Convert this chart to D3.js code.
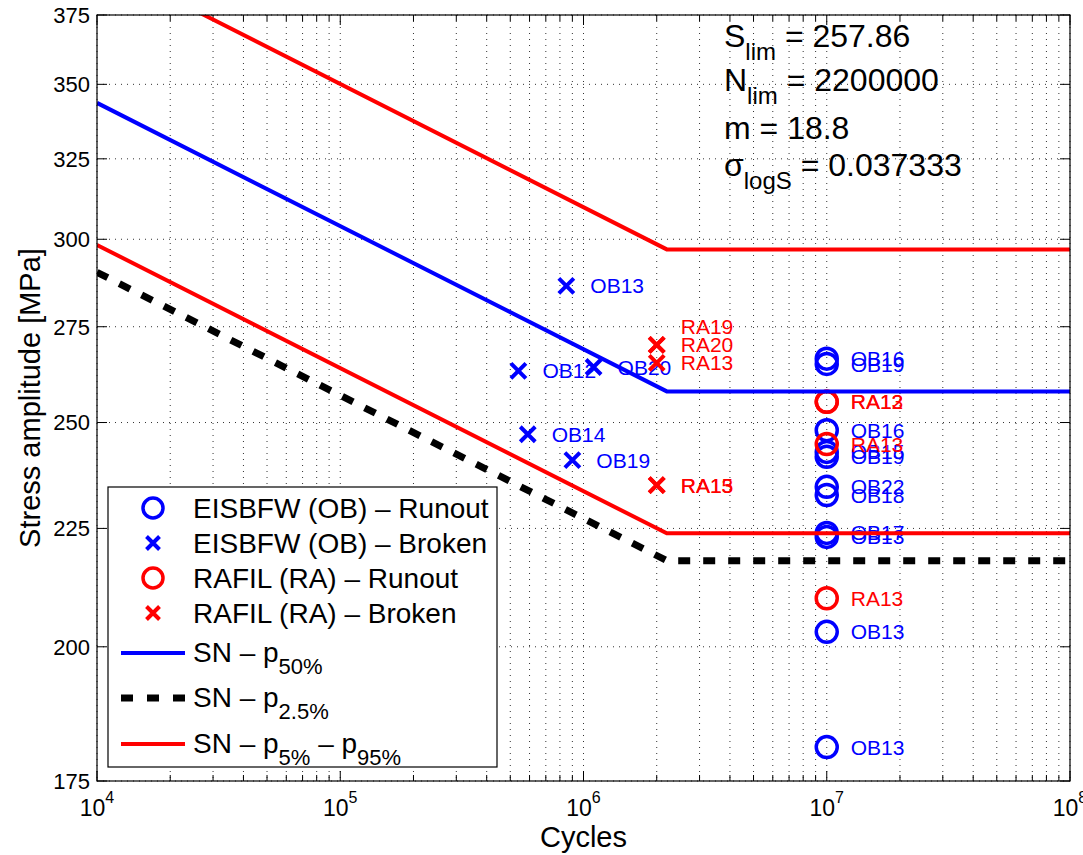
<!DOCTYPE html>
<html>
<head>
<meta charset="utf-8">
<script src="https://cdn.jsdelivr.net/npm/d3@7"></script>
<style>
  body { margin: 0; background: #fff; }
  svg { font-family: "Liberation Sans", Arial, Helvetica, sans-serif; }
</style>
</head>
<body>
<svg id="chart" width="1083" height="855"></svg>
<script>
// tick values
const xMajor = [1e4, 1e5, 1e6, 1e7, 1e8];
const yTicks = [175, 200, 225, 250, 275, 300, 325, 350, 375];

// EISBFW (OB) runouts, all stopped at 1e7 cycles
const obRunoutLabels = ["OB16", "OB19", "OB16", "OB15", "OB19", "OB22", "OB18", "OB17", "OB13", "OB13", "OB13"];
const obRunoutN = [1e7, 1e7, 1e7, 1e7, 1e7, 1e7, 1e7, 1e7, 1e7, 1e7, 1e7];
const obRunoutS = [266.4, 265.0, 248.1, 242.8, 241.6, 234.5, 232.6, 224.0, 223.1, 203.0, 181.0];

// EISBFW (OB) broken
const obBrokenLabels = ["OB13", "OB12", "OB20", "OB14", "OB19"];
const obBrokenN = [8.5e5, 5.4e5, 1.1e6, 5.9e5, 9.0e5];
const obBrokenS = [286.4, 263.2, 264.2, 247.1, 240.8];

// RAFIL (RA) runouts
const raRunoutLabels = ["RA12", "RA13", "RA13", "RA13"];
const raRunoutN = [1e7, 1e7, 1e7, 1e7];
const raRunoutS = [255.2, 255.2, 244.7, 209.9];

// RAFIL (RA) broken
const raBrokenLabels = ["RA19", "RA20", "RA13", "RA15", "RA13"];
const raBrokenN = [2e6, 2e6, 2e6, 2e6, 2e6];
const raBrokenS = [270.1, 270.1, 265.3, 234.9, 234.9];

// SN curves (knee at N_lim)
const snN = [1e4, 2.2e6, 1e8];
const snP50 = [343.6, 257.86, 257.86];
const snP025 = [290.3, 217.9, 217.9];
const snP05 = [298.3, 223.9, 223.9];
const snP95 = [395.8, 297.0, 297.0];

const blue = "#0000ff", red = "#ff0000";
const margin = { left: 97, right: 13, top: 15, bottom: 74 };

const svg = d3.select("#chart");
const width = +svg.attr("width");
const height = +svg.attr("height");
const innerW = width - margin.left - margin.right;
const innerH = height - margin.top - margin.bottom;

const x = d3.scaleLog().domain([1e4, 1e8]).range([0, innerW]);
const y = d3.scaleLog().domain([175, 375]).range([innerH, 0]);

const xMinor = [];
xMajor.slice(0, -1).forEach(d => { for (let k = 2; k <= 9; k++) xMinor.push(d * k); });

const g = svg.append("g").attr("transform", `translate(${margin.left},${margin.top})`);

svg.append("defs").append("clipPath").attr("id", "clip")
  .append("rect").attr("width", innerW).attr("height", innerH);

// grid
const grid = g.append("g").attr("stroke", "#333").attr("stroke-width", 1)
  .attr("stroke-dasharray", "1,5");
grid.selectAll(".gx").data(xMajor.concat(xMinor)).enter().append("line")
  .attr("x1", d => x(d)).attr("x2", d => x(d)).attr("y1", 0).attr("y2", innerH);
grid.selectAll(".gy").data(yTicks).enter().append("line")
  .attr("y1", d => y(d)).attr("y2", d => y(d)).attr("x1", 0).attr("x2", innerW);

// axes ticks (inward, all four sides)
const ax = g.append("g").attr("stroke", "#000").attr("stroke-width", 1);
[[0, 1], [innerH, -1]].forEach(([y0, dir]) => {
  ax.selectAll(null).data(xMajor).enter().append("line")
    .attr("x1", d => x(d)).attr("x2", d => x(d)).attr("y1", y0).attr("y2", y0 + dir * 10);
  ax.selectAll(null).data(xMinor).enter().append("line")
    .attr("x1", d => x(d)).attr("x2", d => x(d)).attr("y1", y0).attr("y2", y0 + dir * 6);
});
ax.selectAll(null).data(yTicks).enter().append("line")
  .attr("x1", 0).attr("x2", 10).attr("y1", d => y(d)).attr("y2", d => y(d));
ax.selectAll(null).data(yTicks).enter().append("line")
  .attr("x1", innerW).attr("x2", innerW - 10).attr("y1", d => y(d)).attr("y2", d => y(d));

// tick labels
g.selectAll(".yl").data(yTicks).enter().append("text")
  .attr("x", -7).attr("y", d => y(d)).attr("dy", "0.36em")
  .attr("text-anchor", "end").attr("font-size", 22).text(d => d);
const xl = g.selectAll(".xl").data(xMajor).enter().append("text")
  .attr("x", d => x(d)).attr("y", innerH + 35)
  .attr("text-anchor", "middle").attr("font-size", 23);
xl.append("tspan").text("10");
xl.append("tspan").attr("dy", -13).attr("font-size", 16).text(d => Math.round(Math.log10(d)));

// axis titles
svg.append("text").attr("x", margin.left + x(1e6)).attr("y", 847)
  .attr("text-anchor", "middle").attr("font-size", 29).text("Cycles");
svg.append("text").attr("transform", `translate(40,${margin.top + innerH / 2}) rotate(-90)`)
  .attr("text-anchor", "middle").attr("font-size", 29).text("Stress amplitude [MPa]");

// points
const plot = g.append("g").attr("clip-path", "url(#clip)");
function crossPath(s) { return `M${-s},${-s}L${s},${s}M${-s},${s}L${s},${-s}`; }

function drawSeries(N, S, labels, color, kind, labelDy) {
  const pts = N.map((n, i) => ({ n, s: S[i], label: labels[i], dy: labelDy ? labelDy[i] : 0 }));
  const sel = plot.append("g");
  if (kind === "o") {
    sel.selectAll("circle").data(pts).enter().append("circle")
      .attr("cx", d => x(d.n)).attr("cy", d => y(d.s)).attr("r", 10.5)
      .attr("fill", "none").attr("stroke", color).attr("stroke-width", 3.5);
  } else {
    sel.selectAll("path").data(pts).enter().append("path")
      .attr("transform", d => `translate(${x(d.n)},${y(d.s)})`)
      .attr("d", crossPath(7.5)).attr("stroke", color).attr("stroke-width", 4).attr("fill", "none");
  }
  sel.selectAll("text").data(pts).enter().append("text")
    .attr("x", d => x(d.n) + 24).attr("y", d => y(d.s) + d.dy).attr("dy", "0.36em")
    .attr("font-size", 21).attr("fill", color).text(d => d.label);
}
drawSeries(obRunoutN, obRunoutS, obRunoutLabels, blue, "o");
drawSeries(obBrokenN, obBrokenS, obBrokenLabels, blue, "x");
drawSeries(raRunoutN, raRunoutS, raRunoutLabels, red, "o");
drawSeries(raBrokenN, raBrokenS, raBrokenLabels, red, "x", [-18, 0, 0, 0, 0]);

// SN curves
const line = d3.line().x(d => x(d[0])).y(d => y(d[1]));
const curves = [
  { s: snP50, color: blue, w: 4, dash: null },
  { s: snP025, color: "#000", w: 7, dash: "12,13" },
  { s: snP05, color: red, w: 4, dash: null },
  { s: snP95, color: red, w: 4, dash: null }
];
curves.forEach(c => {
  plot.append("path").datum(snN.map((n, i) => [n, c.s[i]]))
    .attr("d", line).attr("fill", "none").attr("stroke", c.color)
    .attr("stroke-width", c.w).attr("stroke-dasharray", c.dash);
});

// box
g.append("rect").attr("width", innerW).attr("height", innerH)
  .attr("fill", "none").attr("stroke", "#000").attr("stroke-width", 1.2);

// parameters text
const params = [
  { main: "S", sub: "lim", rest: " = 257.86" },
  { main: "N", sub: "lim", rest: " = 2200000" },
  { main: "m = 18.8", sub: null, rest: null },
  { main: "σ", sub: "logS", rest: " = 0.037333" }
];
const paramY = [47, 91, 139, 176];
params.forEach((p, i) => {
  const t = svg.append("text").attr("x", 724).attr("y", paramY[i]).attr("font-size", 32);
  t.append("tspan").text(p.main);
  if (p.sub) {
    t.append("tspan").attr("dy", 13).attr("font-size", 24).text(p.sub);
    t.append("tspan").attr("dy", -13).text(p.rest);
  }
});

// legend
const lg = svg.append("g");
lg.append("rect").attr("x", 108).attr("y", 487).attr("width", 389).attr("height", 280)
  .attr("fill", "#fff").attr("stroke", "#000").attr("stroke-width", 1.2);
const markerItems = [
  { kind: "o", color: blue, text: "EISBFW (OB) – Runout" },
  { kind: "x", color: blue, text: "EISBFW (OB) – Broken" },
  { kind: "o", color: red, text: "RAFIL (RA) – Runout" },
  { kind: "x", color: red, text: "RAFIL (RA) – Broken" }
];
markerItems.forEach((m, i) => {
  const cy = 508 + i * 35;
  if (m.kind === "o") {
    lg.append("circle").attr("cx", 153).attr("cy", cy).attr("r", 10)
      .attr("fill", "none").attr("stroke", m.color).attr("stroke-width", 3.5);
  } else {
    lg.append("path").attr("transform", `translate(153,${cy})`).attr("d", crossPath(6.5))
      .attr("stroke", m.color).attr("stroke-width", 4);
  }
  lg.append("text").attr("x", 193).attr("y", cy + 10).attr("font-size", 28).text(m.text);
});
const lineItems = [
  { color: blue, w: 4, dash: null, subs: ["50%"] },
  { color: "#000", w: 7, dash: "12,14", subs: ["2.5%"] },
  { color: red, w: 4, dash: null, subs: ["5%", "95%"] }
];
const lineY = [653, 698, 744];
lineItems.forEach((l, i) => {
  const ly = lineY[i];
  lg.append("line").attr("x1", 121).attr("x2", 185).attr("y1", ly).attr("y2", ly)
    .attr("stroke", l.color).attr("stroke-width", l.w).attr("stroke-dasharray", l.dash);
  const t = lg.append("text").attr("x", 193).attr("y", ly + 9).attr("font-size", 28);
  t.append("tspan").text("SN – p");
  t.append("tspan").attr("dy", 12).attr("font-size", 22).text(l.subs[0]);
  if (l.subs[1]) {
    t.append("tspan").attr("dy", -12).text(" – p");
    t.append("tspan").attr("dy", 12).attr("font-size", 22).text(l.subs[1]);
  }
});
</script>
</body>
</html>
